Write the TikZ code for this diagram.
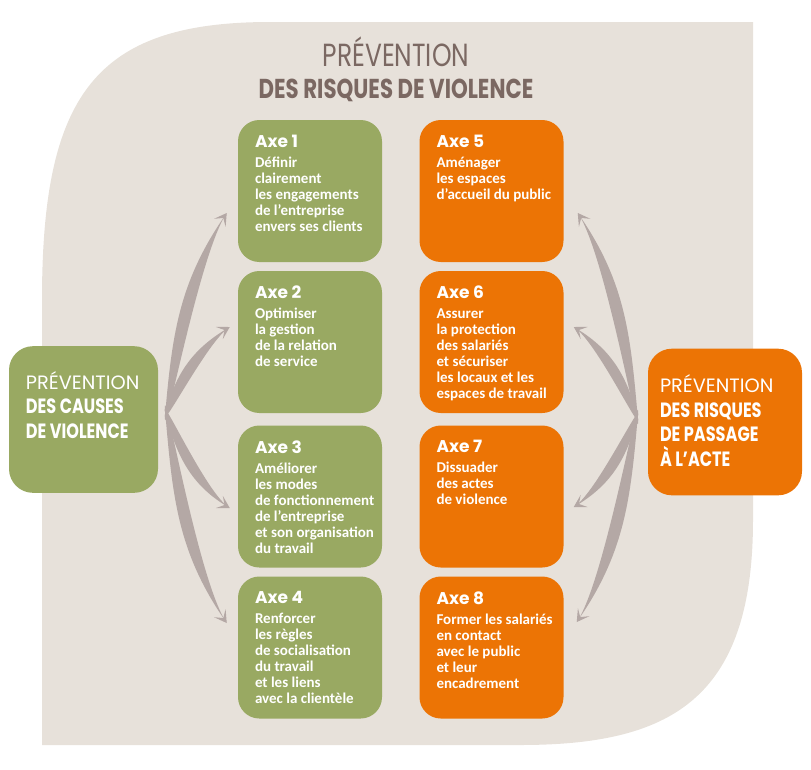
\documentclass[tikz,border=0pt]{standalone}
\usepackage{fontspec}
\usepackage{tikz}
\usetikzlibrary{arrows.meta,positioning,calc}
\setmainfont{Carlito}
\newfontfamily\headfont[FakeStretch=0.78]{Poppins}
\newfontfamily\lightfont{Poppins}
\newfontfamily\axefont{Poppins}
\definecolor{fondbeige}{RGB}{231,225,218}
\definecolor{axevert}{RGB}{153,169,98}
\definecolor{axeorange}{RGB}{236,116,5}
\definecolor{flechegris}{RGB}{180,168,165}
\definecolor{titrebrun}{RGB}{123,104,98}

\begin{document}
\begin{tikzpicture}[x=0.75pt,y=0.75pt,yscale=-1,xscale=1,
  axebox/.style={rectangle, rounded corners=16pt, minimum width=108pt, minimum height=106.5pt, inner sep=0pt},
  sidebox/.style={rectangle, rounded corners=18pt, minimum height=110pt, inner sep=0pt},
  boxtext/.style={anchor=north west, inner sep=0pt, align=left, text=white, font=\bfseries\fontsize{11.25}{12}\selectfont},
  sidetext/.style={anchor=north west, inner sep=0pt, align=left, text=white, font=\headfont\bfseries\fontsize{15.5}{18.5}\selectfont},
  titre/.style={anchor=base, inner sep=0pt, text=titrebrun},
  fleche/.style={flechegris, line width=0.8pt, -{Stealth[length=9pt,width=10.5pt,inset=4.5pt]}}
]
\useasboundingbox (0,0) rectangle (811,769);

%Background
\fill[fondbeige] (42,745) -- (42,300) .. controls (42,95) and (95,22) .. (270,22) -- (753,22) -- (753,520) .. controls (753,700) and (670,745) .. (520,745) -- cycle;

%Title
\node[titre, font=\headfont\fontsize{24}{24}\selectfont] (titre1) at (396,66) {PRÉVENTION};
\node[titre, font=\headfont\bfseries\fontsize{20.5}{24}\selectfont] (titre2) at (396,98) {DES RISQUES DE VIOLENCE};

%Axes
\node[axebox, fill=axevert] (a1) at (310,191) {};
\node[axebox, fill=axevert] (a2) at (310,342) {};
\node[axebox, fill=axevert] (a3) at (310,496.5) {};
\node[axebox, fill=axevert] (a4) at (310,647.5) {};
\node[axebox, fill=axeorange] (a5) at (491.5,191) {};
\node[axebox, fill=axeorange] (a6) at (491.5,342) {};
\node[axebox, fill=axeorange] (a7) at (491.5,496.5) {};
\node[axebox, fill=axeorange] (a8) at (491.5,647.5) {};

\node[boxtext] (t1) at ([shift={(17,15)}]a1.north west) {{\axefont\bfseries\fontsize{12.75}{12}\selectfont Axe 1}\\[3pt]Définir\\clairement\\les engagements\\de l’entreprise\\envers ses clients};
\node[boxtext] (t2) at ([shift={(17,15)}]a2.north west) {{\axefont\bfseries\fontsize{12.75}{12}\selectfont Axe 2}\\[3pt]Optimiser\\la gestion\\de la relation\\de service};
\node[boxtext] (t3) at ([shift={(17,15)}]a3.north west) {{\axefont\bfseries\fontsize{12.75}{12}\selectfont Axe 3}\\[3pt]Améliorer\\les modes\\de fonctionnement\\de l’entreprise\\et son organisation\\du travail};
\node[boxtext] (t4) at ([shift={(17,15)}]a4.north west) {{\axefont\bfseries\fontsize{12.75}{12}\selectfont Axe 4}\\[3pt]Renforcer\\les règles\\de socialisation\\du travail\\et les liens\\avec la clientèle};
\node[boxtext] (t5) at ([shift={(17,15)}]a5.north west) {{\axefont\bfseries\fontsize{12.75}{12}\selectfont Axe 5}\\[3pt]Aménager\\les espaces\\d’accueil du public};
\node[boxtext] (t6) at ([shift={(17,15)}]a6.north west) {{\axefont\bfseries\fontsize{12.75}{12}\selectfont Axe 6}\\[3pt]Assurer\\la protection\\des salariés\\et sécuriser\\les locaux et les\\espaces de travail};
\node[boxtext] (t7) at ([shift={(17,15)}]a7.north west) {{\axefont\bfseries\fontsize{12.75}{12}\selectfont Axe 7}\\[3pt]Dissuader\\des actes\\de violence};
\node[boxtext] (t8) at ([shift={(17,15)}]a8.north west) {{\axefont\bfseries\fontsize{12.75}{12}\selectfont Axe 8}\\[3pt]Former les salariés\\en contact\\avec le public\\et leur\\encadrement};

%Side boxes
\node[sidebox, fill=axevert, minimum width=111.75pt] (causes) at (83.5,419.5) {};
\node[sidebox, fill=axeorange, minimum width=115.5pt] (passage) at (725,422) {};
\node[sidetext] (tc) at ([shift={(17,25)}]causes.north west) {{\lightfont\mdseries\fontsize{14.5}{18.5}\selectfont PRÉVENTION}\\DES CAUSES\\DE VIOLENCE};
\node[sidetext] (tp) at ([shift={(12,26)}]passage.north west) {{\lightfont\mdseries\fontsize{14.5}{18.5}\selectfont PRÉVENTION}\\DES RISQUES\\DE PASSAGE\\À L’ACTE};

%Arrows
\coordinate (lfan) at ([shift={(7,-6.5)}]causes.east);
\coordinate (rfan) at ([shift={(-10,-5)}]passage.west);
\coordinate (g1) at ([shift={(-11,22)}]a1.west);
\coordinate (g2) at ([shift={(-8,-15)}]a2.west);
\coordinate (g3) at ([shift={(-8,11.5)}]a3.west);
\coordinate (g4) at ([shift={(-11,-24.5)}]a4.west);
\coordinate (o5) at ([shift={(14,22)}]a5.east);
\coordinate (o6) at ([shift={(10,-15)}]a6.east);
\coordinate (o7) at ([shift={(10,10.5)}]a7.east);
\coordinate (o8) at ([shift={(13,-25.5)}]a8.east);

\foreach \e/\o/\i/\b in {g1/-85/125/95, g2/-75/150/105, g3/75/210/255, g4/85/235/265}{
  \fill[flechegris] (lfan) to[out=\o,in=\i,looseness=1] (\e) to[out=\i,in=\b,looseness=0.6] (lfan);
  \draw[fleche] ([shift={(\i:4)}]\e) -- (\e);
}
\foreach \e/\o/\i/\b in {o5/-95/55/85, o6/-105/30/75, o7/105/-30/285, o8/95/-55/275}{
  \fill[flechegris] (rfan) to[out=\o,in=\i,looseness=1] (\e) to[out=\i,in=\b,looseness=0.6] (rfan);
  \draw[fleche] ([shift={(\i:4)}]\e) -- (\e);
}

\end{tikzpicture}
\end{document}
